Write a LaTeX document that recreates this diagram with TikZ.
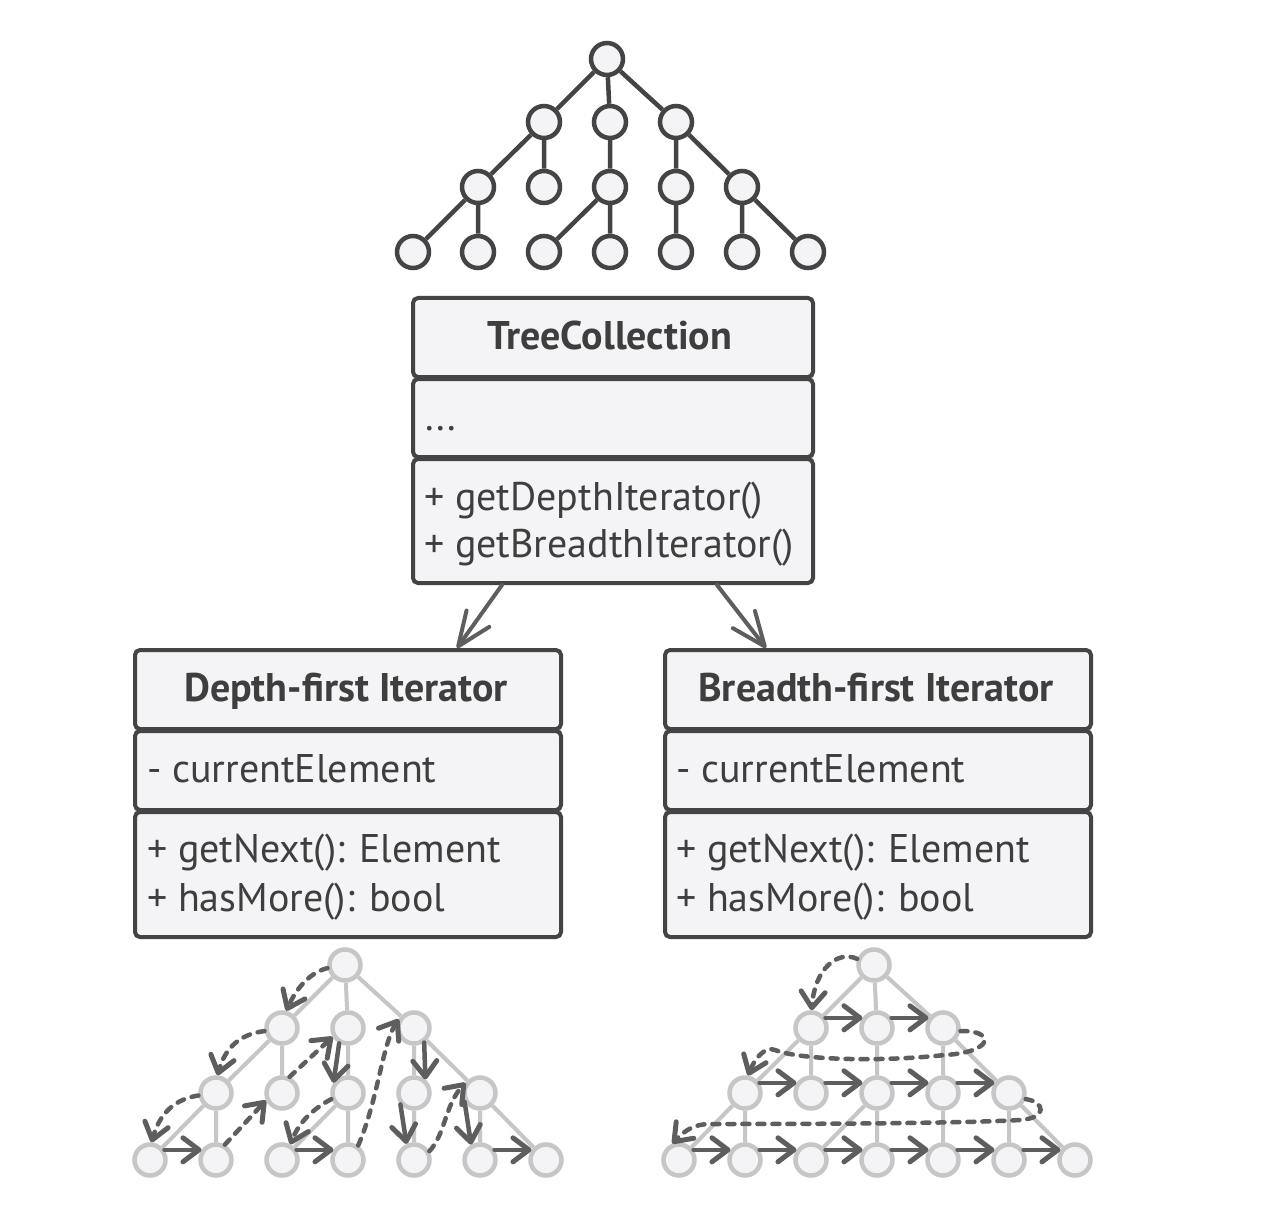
\documentclass[tikz,border=0pt]{standalone}
\usepackage{fontspec}
\setmainfont{PT Sans}
\usetikzlibrary{arrows.meta}
\definecolor{dk}{HTML}{444444}
\definecolor{txt}{HTML}{3E3E3E}
\definecolor{fillc}{HTML}{F4F4F6}
\definecolor{lt}{HTML}{C6C6C6}
\definecolor{dsh}{HTML}{5E5E5E}
\definecolor{con}{HTML}{5E5E5E}
\begin{document}
\begin{tikzpicture}[x=1pt,y=-1pt,
  topc/.style={circle,draw=dk,fill=fillc,line width=4.5pt,minimum size=32pt,inner sep=0pt},
  ltc/.style={circle,draw=lt,fill=fillc,line width=4.5pt,minimum size=31pt,inner sep=0pt},
  tedge/.style={draw=dk,line width=4.5pt},
  ledge/.style={draw=lt,line width=4pt},
  trav/.style={draw=dsh,line width=4.5pt,dash pattern=on 7pt off 8pt,line cap=round,-{Straight Barb[length=16pt,width=24pt,line width=5pt,round]}},
  travs/.style={draw=dsh,line width=4.5pt,line cap=round,-{Straight Barb[length=16pt,width=24pt,line width=5pt,round]}},
  comp/.style={rectangle,draw=dk,fill=fillc,line width=4pt,rounded corners=5pt,inner sep=0pt,anchor=north west},
  ttl/.style={text=txt,font=\fontsize{40pt}{46pt}\selectfont\bfseries,inner sep=0pt,anchor=base},
  mem/.style={text=txt,font=\fontsize{40pt}{46pt}\selectfont,inner sep=0pt,anchor=base west},
  dep/.style={draw=con,line width=4pt,line cap=round,-{Straight Barb[length=34pt,width=28pt,round]}}
]
\fill[white] (0,0) rectangle (1262,1209);
\useasboundingbox (0,0) rectangle (1262,1209);

% ---------- top tree ----------
\node[topc] (t0) at (607,59) {};
\node[topc] (t1) at (544,122) {};
\node[topc] (t2) at (610,122) {};
\node[topc] (t3) at (676,122) {};
\node[topc] (t4) at (478,187) {};
\node[topc] (t5) at (544,187) {};
\node[topc] (t6) at (610,187) {};
\node[topc] (t7) at (676,187) {};
\node[topc] (t8) at (742,187) {};
\node[topc] (t9) at (413,252) {};
\node[topc] (t10) at (478,252) {};
\node[topc] (t11) at (544,252) {};
\node[topc] (t12) at (610,252) {};
\node[topc] (t13) at (676,252) {};
\node[topc] (t14) at (742,252) {};
\node[topc] (t15) at (808,252) {};
\draw[tedge] (t0)--(t1) (t0)--(t2) (t0)--(t3) (t1)--(t4) (t1)--(t5) (t2)--(t6)
  (t3)--(t7) (t3)--(t8) (t4)--(t9) (t4)--(t10) (t6)--(t11) (t6)--(t12)
  (t7)--(t13) (t8)--(t14) (t8)--(t15);

% ---------- TreeCollection ----------
\node[comp,minimum width=400pt,minimum height=79pt] (tch) at (411,296) {};
\node[comp,minimum width=400pt,minimum height=78pt] (tca) at (411,377) {};
\node[comp,minimum width=400pt,minimum height=124pt] (tcm) at (411,457) {};
\node[ttl] (tct) at (610,349) {TreeCollection};
\node[mem] (tcat) at (425,430) {...};
\node[mem] (tcm1) at (424,510) {+ getDepthIterator()};
\node[mem] (tcm2) at (424,557) {+ getBreadthIterator()};

% ---------- Depth-first Iterator ----------
\node[comp,minimum width=426pt,minimum height=79pt] (dh) at (133,648) {};
\node[comp,minimum width=426pt,minimum height=79pt] (da) at (133,729) {};
\node[comp,minimum width=426pt,minimum height=125pt] (dm) at (133,810) {};
\node[ttl] (dt) at (346,701) {Depth-first Iterator};
\node[mem] (dat) at (147,782) {- currentElement};
\node[mem] (dm1) at (147,862) {+ getNext(): Element};
\node[mem] (dm2) at (147,911) {+ hasMore(): bool};

% ---------- Breadth-first Iterator ----------
\node[comp,minimum width=426pt,minimum height=79pt] (bh) at (663,648) {};
\node[comp,minimum width=426pt,minimum height=79pt] (ba) at (663,729) {};
\node[comp,minimum width=426pt,minimum height=125pt] (bm) at (663,810) {};
\node[ttl] (bt) at (876,701) {Breadth-first Iterator};
\node[mem] (bat) at (676,782) {- currentElement};
\node[mem] (bm1) at (676,862) {+ getNext(): Element};
\node[mem] (bm2) at (676,911) {+ hasMore(): bool};

% ---------- dependency arrows ----------
\draw[dep] ([xshift=91pt]tcm.south west) -- ([xshift=324pt]dh.north west);
\draw[dep] ([xshift=306pt]tcm.south west) -- ([xshift=103pt]bh.north west);

% ---------- depth-first tree ----------
\node[ltc] (dR) at (345,965) {};
\node[ltc] (dA) at (282,1028) {};
\node[ltc] (dB) at (348,1028) {};
\node[ltc] (dC) at (414,1028) {};
\node[ltc] (dA1) at (216,1093) {};
\node[ltc] (dA2) at (282,1093) {};
\node[ltc] (dB1) at (348,1093) {};
\node[ltc] (dC1) at (414,1093) {};
\node[ltc] (dC2) at (480,1093) {};
\node[ltc] (dA11) at (150,1160) {};
\node[ltc] (dA12) at (216,1160) {};
\node[ltc] (dB11) at (282,1160) {};
\node[ltc] (dB12) at (348,1160) {};
\node[ltc] (dC11) at (414,1160) {};
\node[ltc] (dC21) at (480,1160) {};
\node[ltc] (dC22) at (546,1160) {};
\draw[ledge] (dR)--(dA) (dR)--(dB) (dR)--(dC) (dA)--(dA1) (dA)--(dA2) (dB)--(dB1)
  (dC)--(dC1) (dC)--(dC2) (dA1)--(dA11) (dA1)--(dA12) (dB1)--(dB11) (dB1)--(dB12)
  (dC1)--(dC11) (dC2)--(dC21) (dC2)--(dC22);

\draw[trav] (dR.190) .. controls (312,972) and (298,985) .. (dA.76);
\draw[trav] (dA.190) .. controls (240,1034) and (225,1048) .. (dA1.85);
\draw[trav] (dA1.188) .. controls (176,1099) and (160,1112) .. (dA11.85);
\draw[travs] (dA11.35) -- (dA12.145);
\draw[trav] (dA12.60) -- (dA2.205);
\draw[trav] (dA2.65) -- (dB.210);
\draw[travs] (dB.240) -- (dB1.145);
\draw[trav] (dB1.200) .. controls (315,1108) and (300,1120) .. (dB11.62);
\draw[travs] (dB11.35) -- (dB12.145);
\draw[trav] (dB12.55) .. controls (378,1100) and (382,1045) .. (dC.150);
\draw[travs] (dC.-55) -- (dC1.50);
\draw[travs] (dC1.220) -- (dC11.115);
\draw[trav] (dC11.30) .. controls (445,1135) and (445,1105) .. (dC2.145);
\draw[travs] (dC2.210) -- (dC21.120);
\draw[travs] (dC21.35) -- (dC22.145);

% ---------- breadth-first tree ----------
\node[ltc] (bR) at (874,965) {};
\node[ltc] (bA) at (811,1028) {};
\node[ltc] (bB) at (877,1028) {};
\node[ltc] (bC) at (943,1028) {};
\node[ltc] (bA1) at (745,1093) {};
\node[ltc] (bA2) at (811,1093) {};
\node[ltc] (bB1) at (877,1093) {};
\node[ltc] (bC1) at (943,1093) {};
\node[ltc] (bC2) at (1009,1093) {};
\node[ltc] (bA11) at (679,1160) {};
\node[ltc] (bA12) at (745,1160) {};
\node[ltc] (bB11) at (811,1160) {};
\node[ltc] (bB12) at (877,1160) {};
\node[ltc] (bC11) at (943,1160) {};
\node[ltc] (bC21) at (1009,1160) {};
\node[ltc] (bC22) at (1075,1160) {};
\draw[ledge] (bR)--(bA) (bR)--(bB) (bR)--(bC) (bA)--(bA1) (bA)--(bA2) (bB)--(bB1)
  (bC)--(bC1) (bC)--(bC2) (bA1)--(bA11) (bA1)--(bA12) (bB1)--(bB11) (bB1)--(bB12)
  (bC1)--(bC11) (bC2)--(bC21) (bC2)--(bC22);

\draw[trav] (bR.160) .. controls (838,950) and (815,968) .. (bA.88);
\draw[travs] (bA.35) -- (bB.145);
\draw[travs] (bB.35) -- (bC.145);
\draw[trav] (bC.-10) .. controls (995,1030) and (995,1052) .. (945,1055)
  .. controls (880,1062) and (800,1060) .. (775,1050)
  .. controls (765,1046) and (755,1058) .. (bA1.80);
\draw[travs] (bA1.35) -- (bA2.145);
\draw[travs] (bA2.35) -- (bB1.145);
\draw[travs] (bB1.35) -- (bC1.145);
\draw[travs] (bC1.35) -- (bC2.145);
\draw[trav] (bC2.-20) .. controls (1045,1102) and (1048,1118) .. (1020,1120)
  .. controls (950,1124) and (760,1124) .. (710,1124)
  .. controls (695,1124) and (685,1130) .. (bA11.112);
\draw[travs] (bA11.35) -- (bA12.145);
\draw[travs] (bA12.35) -- (bB11.145);
\draw[travs] (bB11.35) -- (bB12.145);
\draw[travs] (bB12.35) -- (bC11.145);
\draw[travs] (bC11.35) -- (bC21.145);
\draw[travs] (bC21.35) -- (bC22.145);
\end{tikzpicture}
\end{document}
